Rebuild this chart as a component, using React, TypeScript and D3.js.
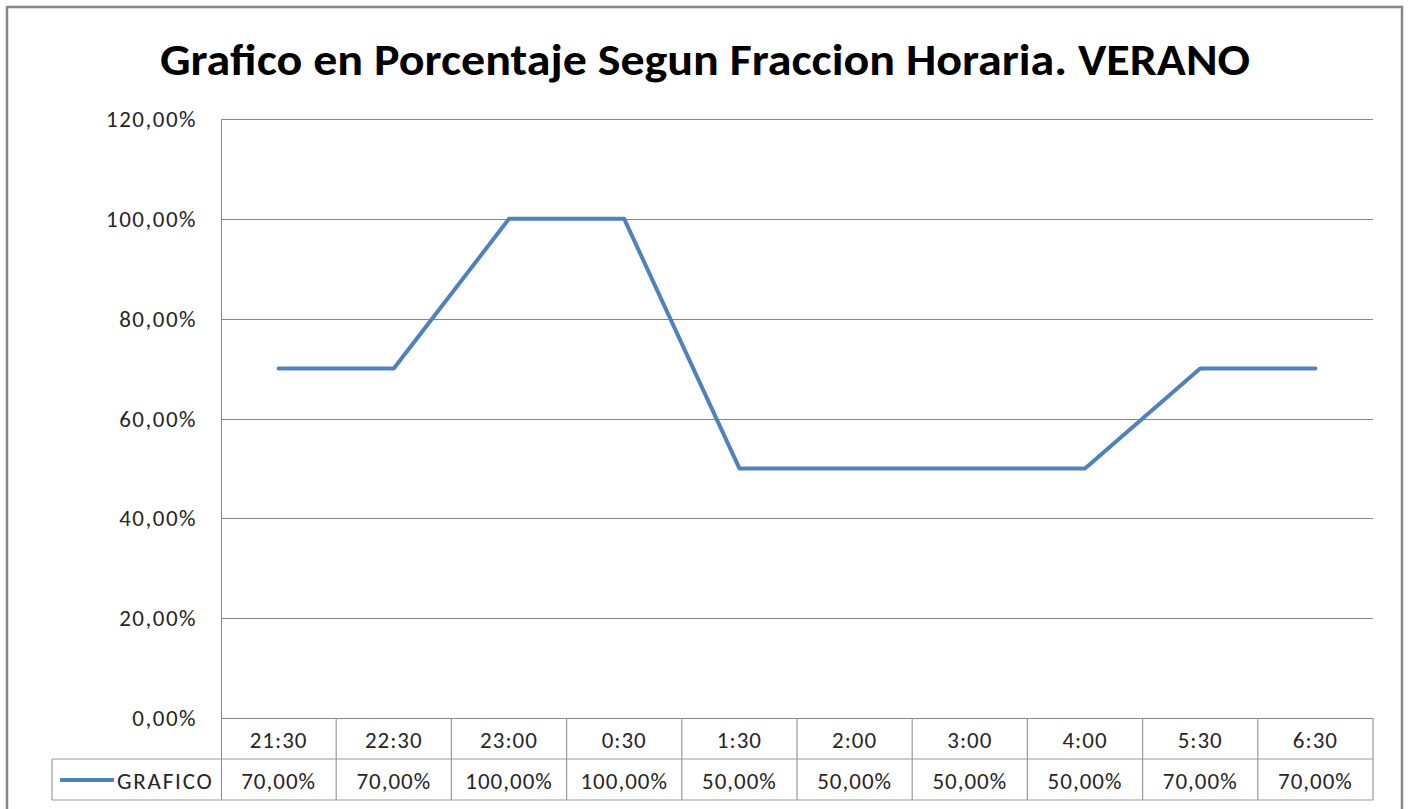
import React, { useEffect, useRef } from "react";
import * as d3 from "d3";

const categories = ["21:30", "22:30", "23:00", "0:30", "1:30", "2:00", "3:00", "4:00", "5:30", "6:30"];
const values = [70, 70, 100, 100, 50, 50, 50, 50, 70, 70];
const yTicks = [0, 20, 40, 60, 80, 100, 120];
const seriesName = "GRAFICO";
const title = "Grafico en Porcentaje Segun Fraccion Horaria. VERANO";

const W = 1410;
const H = 809;
const font = "Carlito, Calibri, Lato, sans-serif";

const fmt = (v: number) => v.toFixed(2).replace(".", ",") + "%";

export default function App() {
  const svgRef = useRef<SVGSVGElement | null>(null);

  useEffect(() => {
    if (!svgRef.current) return;
    const svg = d3.select(svgRef.current);
    svg.selectAll("*").remove();

    const left = 221, right = 1373, top = 119, bottom = 718;
    const rowH = 41;
    const legendLeft = 52;

    const x = d3.scaleBand<string>().domain(categories).range([left, right]).padding(0);
    const y = d3.scaleLinear().domain([0, 120]).range([bottom, top]);

    svg.append("rect").attr("width", W).attr("height", H).attr("fill", "#fff");

    // outer chart border
    svg.append("rect")
      .attr("x", 7).attr("y", 7)
      .attr("width", 1395).attr("height", 820)
      .attr("fill", "none").attr("stroke", "#878787").attr("stroke-width", 2.5);

    svg.append("text")
      .attr("x", 705).attr("y", 75)
      .attr("text-anchor", "middle")
      .attr("font-family", font)
      .attr("font-weight", 700)
      .attr("font-size", 44)
      .attr("textLength", 1090)
      .attr("lengthAdjust", "spacingAndGlyphs")
      .attr("fill", "#000")
      .text(title);

    // gridlines
    svg.append("g")
      .selectAll("line")
      .data(yTicks)
      .join("line")
      .attr("x1", left).attr("x2", right)
      .attr("y1", d => Math.round(y(d)) + 0.5).attr("y2", d => Math.round(y(d)) + 0.5)
      .attr("stroke", "#868686").attr("stroke-width", 1);

    // y axis line
    svg.append("line")
      .attr("x1", left + 0.5).attr("x2", left + 0.5)
      .attr("y1", top).attr("y2", bottom + rowH * 2)
      .attr("stroke", "#868686");

    svg.append("g")
      .selectAll("text")
      .data(yTicks)
      .join("text")
      .attr("x", 197)
      .attr("y", d => y(d) + 8)
      .attr("text-anchor", "end")
      .attr("font-family", font)
      .attr("font-size", 23)
      .attr("letter-spacing", 1.5)
      .attr("fill", "#262626")
      .text(d => fmt(d));

    // data table
    const tbl = svg.append("g").attr("stroke", "#9a9a9a").attr("stroke-width", 1.2);
    categories.forEach(c => {
      const xx = x(c)! + x.bandwidth();
      tbl.append("line")
        .attr("x1", xx).attr("x2", xx)
        .attr("y1", bottom).attr("y2", bottom + rowH * 2);
    });
    tbl.append("line").attr("x1", legendLeft).attr("x2", right)
      .attr("y1", bottom + rowH).attr("y2", bottom + rowH);
    tbl.append("line").attr("x1", legendLeft).attr("x2", right)
      .attr("y1", bottom + rowH * 2).attr("y2", bottom + rowH * 2);
    tbl.append("line").attr("x1", legendLeft).attr("x2", legendLeft)
      .attr("y1", bottom + rowH).attr("y2", bottom + rowH * 2);

    svg.append("g")
      .selectAll("text")
      .data(categories)
      .join("text")
      .attr("x", d => x(d)! + x.bandwidth() / 2)
      .attr("y", bottom + 30)
      .attr("text-anchor", "middle")
      .attr("font-family", font)
      .attr("font-size", 23)
      .attr("letter-spacing", 1)
      .attr("fill", "#262626")
      .text(d => d);

    svg.append("g")
      .selectAll("text")
      .data(values)
      .join("text")
      .attr("x", (_, i) => x(categories[i])! + x.bandwidth() / 2)
      .attr("y", bottom + rowH + 30)
      .attr("text-anchor", "middle")
      .attr("font-family", font)
      .attr("font-size", 23)
      .attr("letter-spacing", 1)
      .attr("fill", "#262626")
      .text(d => fmt(d));

    // legend key
    svg.append("line")
      .attr("x1", 60).attr("x2", 114)
      .attr("y1", bottom + rowH + 21).attr("y2", bottom + rowH + 21)
      .attr("stroke", "#4f81bd").attr("stroke-width", 4);
    svg.append("text")
      .attr("x", 117).attr("y", bottom + rowH + 30)
      .attr("font-family", font)
      .attr("font-size", 23)
      .attr("letter-spacing", 1.8)
      .attr("fill", "#262626")
      .text(seriesName);

    // series line
    const line = d3.line<number>()
      .x((_, i) => x(categories[i])! + x.bandwidth() / 2)
      .y(d => y(d));
    svg.append("path")
      .datum(values)
      .attr("d", line)
      .attr("fill", "none")
      .attr("stroke", "#4f81bd")
      .attr("stroke-width", 4)
      .attr("stroke-linejoin", "round")
      .attr("stroke-linecap", "round");
  }, []);

  return (
    <svg
      ref={svgRef}
      width={W}
      height={H}
      style={{ position: "absolute", left: 0, top: 0, display: "block" }}
    />
  );
}
